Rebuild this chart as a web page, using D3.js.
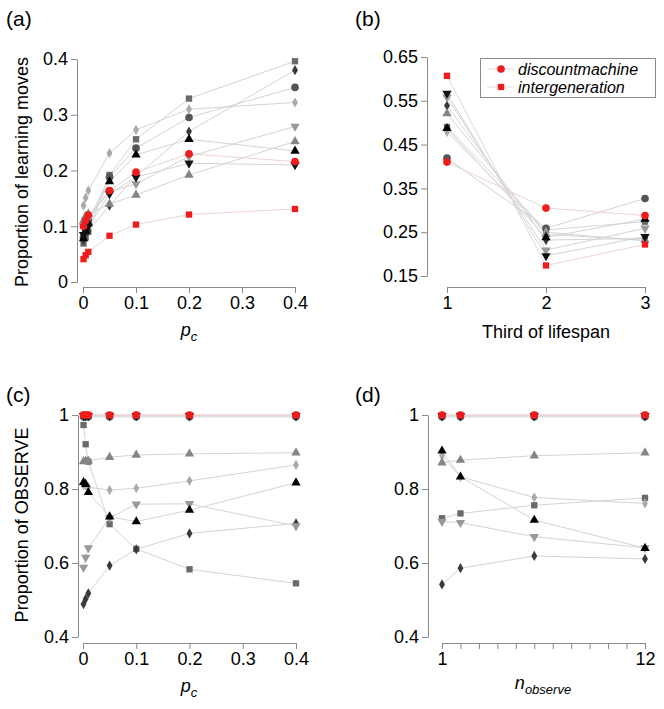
<!DOCTYPE html>
<html>
<head>
<meta charset="utf-8">
<script src="https://cdn.jsdelivr.net/npm/d3@7"></script>
<style>
  body { margin: 0; background: #fff; }
  svg { font-family: "Liberation Sans", Arial, sans-serif; }
</style>
</head>
<body>
<script>
// x values of each panel
const pcValues = [0.001, 0.005, 0.01, 0.05, 0.1, 0.2, 0.4];
const thirdValues = [1, 2, 3];
const nObserveValues = [1, 2, 6, 12];

// series order: square, dark diamond, circle, light diamond, grey tri-down,
// grey tri-up, black tri-up, black tri-down, discountmachine, intergeneration
const seriesNames = ['sq', 'dDia', 'circ', 'lDia', 'gTriDown', 'gTriUp', 'bTriUp', 'bTriDown',
  'discountmachine', 'intergeneration'];

// (a) proportion of learning moves vs p_c
const learningMoves = [
  [0.069, 0.080, 0.090, 0.192, 0.256, 0.329, 0.396],
  [0.075, 0.085, 0.092, 0.137, 0.190, 0.270, 0.380],
  [0.080, 0.095, 0.110, 0.188, 0.240, 0.295, 0.349],
  [0.137, 0.151, 0.164, 0.231, 0.273, 0.310, 0.322],
  [0.100, 0.110, 0.115, 0.162, 0.176, 0.225, 0.279],
  [0.110, 0.118, 0.122, 0.140, 0.156, 0.192, 0.252],
  [0.078, 0.092, 0.105, 0.180, 0.228, 0.256, 0.235],
  [0.085, 0.095, 0.100, 0.158, 0.188, 0.213, 0.210],
  [0.100, 0.110, 0.120, 0.164, 0.197, 0.230, 0.216],
  [0.041, 0.048, 0.054, 0.083, 0.103, 0.121, 0.131]
];

// (b) learning moves by third of lifespan
const lifespanMoves = [
  [0.490, 0.255, 0.274],
  [0.539, 0.232, 0.236],
  [0.419, 0.259, 0.327],
  [0.479, 0.250, 0.230],
  [0.558, 0.209, 0.259],
  [0.521, 0.245, 0.232],
  [0.487, 0.238, 0.280],
  [0.567, 0.196, 0.240],
  [0.410, 0.305, 0.288],
  [0.607, 0.174, 0.222]
];

// (c) proportion of OBSERVE vs p_c
const observeByPc = [
  [0.973, 0.921, 0.874, 0.705, 0.638, 0.583, 0.545],
  [0.489, 0.503, 0.518, 0.593, 0.637, 0.680, 0.707],
  [0.995, 0.995, 0.995, 0.995, 0.995, 0.995, 0.995],
  [0.811, 0.810, 0.805, 0.797, 0.802, 0.822, 0.865],
  [0.588, 0.615, 0.641, 0.722, 0.759, 0.760, 0.700],
  [0.874, 0.876, 0.876, 0.886, 0.892, 0.895, 0.898],
  [0.818, 0.813, 0.791, 0.725, 0.712, 0.743, 0.817],
  [0.998, 0.998, 0.998, 0.998, 0.998, 0.998, 0.998],
  [1, 1, 1, 1, 1, 1, 1],
  [1, 1, 1, 1, 1, 1, 1]
];

// (d) proportion of OBSERVE vs n_observe
const observeByN = [
  [0.721, 0.734, 0.756, 0.776],
  [0.542, 0.586, 0.619, 0.611],
  [0.995, 0.995, 0.995, 0.995],
  [0.890, 0.833, 0.777, 0.761],
  [0.712, 0.709, 0.671, 0.641],
  [0.871, 0.878, 0.890, 0.898],
  [0.903, 0.833, 0.716, 0.640],
  [0.998, 0.998, 0.998, 0.998],
  [1, 1, 1, 1],
  [1, 1, 1, 1]
];

const legendLabels = ['discountmachine', 'intergeneration'];

// marker styling per series
const RED = '#ee1c1c';
const markerStyle = {
  sq:              { type: d3.symbolSquare,   fill: '#6a6a6a', size: 40, flip: false },
  dDia:            { type: d3.symbolDiamond,  fill: '#3a3a3a', size: 30, flip: false },
  circ:            { type: d3.symbolCircle,   fill: '#555555', size: 46, flip: false },
  lDia:            { type: d3.symbolDiamond,  fill: '#aaaaaa', size: 30, flip: false },
  gTriDown:        { type: d3.symbolTriangle, fill: '#999999', size: 38, flip: true },
  gTriUp:          { type: d3.symbolTriangle, fill: '#858585', size: 38, flip: false },
  bTriUp:          { type: d3.symbolTriangle, fill: '#000000', size: 38, flip: false },
  bTriDown:        { type: d3.symbolTriangle, fill: '#111111', size: 38, flip: true },
  discountmachine: { type: d3.symbolCircle,   fill: RED,       size: 46, flip: false },
  intergeneration: { type: d3.symbolSquare,   fill: RED,       size: 40, flip: false }
};
const lineColor = name => markerStyle[name].fill === RED ? '#ebd3d3' : '#d4d4d4';

const svg = d3.select('body').append('svg')
  .attr('width', 664)
  .attr('height', 709);

const fmt1 = d => d === 0 ? '0' : (d === 1 ? '1' : d3.format('.1f')(d));

function drawPanel(cfg) {
  const g = svg.append('g');
  const x = cfg.x, y = cfg.y;

  // lines
  cfg.series.forEach((vals, i) => {
    const line = d3.line()
      .x((d, j) => x(cfg.xVals[j]))
      .y(d => y(d));
    g.append('path')
      .attr('d', line(vals))
      .attr('fill', 'none')
      .attr('stroke', lineColor(seriesNames[i]))
      .attr('stroke-width', 1);
  });

  // points
  cfg.series.forEach((vals, i) => {
    const st = markerStyle[seriesNames[i]];
    g.append('g').selectAll('path')
      .data(vals)
      .join('path')
      .attr('d', d3.symbol().type(st.type).size(st.size))
      .attr('transform', (d, j) => `translate(${x(cfg.xVals[j])},${y(d)})` + (st.flip ? ' rotate(180)' : ''))
      .attr('fill', st.fill);
  });

  // axes
  const xAxis = d3.axisBottom(x)
    .tickValues(cfg.xTicks)
    .tickFormat(cfg.xFormat)
    .tickSize(6)
    .tickSizeOuter(0)
    .tickPadding(3);
  const yAxis = d3.axisLeft(y)
    .tickValues(cfg.yTicks)
    .tickFormat(cfg.yFormat)
    .tickSize(6)
    .tickSizeOuter(0)
    .tickPadding(3);

  const gx = g.append('g').attr('transform', `translate(0,${cfg.xAxisY})`).call(xAxis);
  const gy = g.append('g').attr('transform', `translate(${cfg.yAxisX},0)`).call(yAxis);
  [gx, gy].forEach(a => {
    a.attr('font-family', null).attr('font-size', 18);
    a.select('.domain').attr('stroke', '#8a8a8a');
    a.selectAll('.tick line').attr('stroke', '#8a8a8a');
    a.selectAll('.tick text').attr('fill', '#000');
  });

  // panel label
  svg.append('text')
    .attr('x', cfg.labelX)
    .attr('y', cfg.labelY)
    .attr('font-size', 21)
    .text(cfg.label);
}

// (a)
drawPanel({
  x: d3.scaleLinear().domain([0, 0.4]).range([83, 295]),
  y: d3.scaleLinear().domain([0, 0.4]).range([282, 59]),
  xVals: pcValues, series: learningMoves,
  xTicks: [0, 0.1, 0.2, 0.3, 0.4], xFormat: fmt1,
  yTicks: [0, 0.1, 0.2, 0.3, 0.4], yFormat: fmt1,
  xAxisY: 287, yAxisX: 77,
  label: '(a)', labelX: 6, labelY: 26
});

// (b)
drawPanel({
  x: d3.scaleLinear().domain([1, 3]).range([447, 645]),
  y: d3.scaleLinear().domain([0.15, 0.65]).range([276, 57]),
  xVals: thirdValues, series: lifespanMoves,
  xTicks: [1, 2, 3], xFormat: d3.format('d'),
  yTicks: [0.15, 0.25, 0.35, 0.45, 0.55, 0.65], yFormat: d3.format('.2f'),
  xAxisY: 287, yAxisX: 427,
  label: '(b)', labelX: 355, labelY: 26
});

// (c)
drawPanel({
  x: d3.scaleLinear().domain([0, 0.4]).range([83, 296]),
  y: d3.scaleLinear().domain([0.4, 1]).range([637, 415]),
  xVals: pcValues, series: observeByPc,
  xTicks: [0, 0.1, 0.2, 0.3, 0.4], xFormat: fmt1,
  yTicks: [0.4, 0.6, 0.8, 1], yFormat: fmt1,
  xAxisY: 643, yAxisX: 78,
  label: '(c)', labelX: 6, labelY: 402
});

// (d)
drawPanel({
  x: d3.scaleLinear().domain([1, 12]).range([442, 645]),
  y: d3.scaleLinear().domain([0.4, 1]).range([637, 415]),
  xVals: nObserveValues, series: observeByN,
  xTicks: d3.range(1, 13), xFormat: d => (d === 1 || d === 12) ? String(d) : '',
  yTicks: [0.4, 0.6, 0.8, 1], yFormat: fmt1,
  xAxisY: 643, yAxisX: 428,
  label: '(d)', labelX: 355, labelY: 402
});

// axis titles
const yTitle = (txt, cx, cy) => svg.append('text')
  .attr('transform', `translate(${cx},${cy}) rotate(-90)`)
  .attr('text-anchor', 'middle')
  .attr('font-size', 18)
  .text(txt);
yTitle('Proportion of learning moves', 28, 172);
yTitle('Proportion of OBSERVE', 28, 525);

const subTitle = (main, sub, cx, by) => {
  const t = svg.append('text')
    .attr('x', cx).attr('y', by)
    .attr('text-anchor', 'middle')
    .attr('font-size', 18)
    .attr('font-style', 'italic');
  t.append('tspan').text(main);
  t.append('tspan').attr('font-size', 13).attr('dy', 5).text(sub);
};
subTitle('p', 'c', 189, 336);
subTitle('p', 'c', 189, 692);
subTitle('n', 'observe', 543, 689);

svg.append('text')
  .attr('x', 546).attr('y', 338)
  .attr('text-anchor', 'middle')
  .attr('font-size', 18)
  .text('Third of lifespan');

// legend
const legend = svg.append('g');
legend.append('rect')
  .attr('x', 480.5).attr('y', 58.5)
  .attr('width', 175).attr('height', 39)
  .attr('fill', '#fff')
  .attr('stroke', '#8a8a8a');
legendLabels.forEach((name, i) => {
  const ly = 69 + i * 18;
  const st = markerStyle[name];
  legend.append('line')
    .attr('x1', 487).attr('x2', 514)
    .attr('y1', ly).attr('y2', ly)
    .attr('stroke', lineColor(name));
  legend.append('path')
    .attr('d', d3.symbol().type(st.type).size(st.size)())
    .attr('transform', `translate(501,${ly})`)
    .attr('fill', st.fill);
  legend.append('text')
    .attr('x', 518).attr('y', ly + 5.5)
    .attr('font-size', 16)
    .attr('font-style', 'italic')
    .text(name);
});
</script>
</body>
</html>
